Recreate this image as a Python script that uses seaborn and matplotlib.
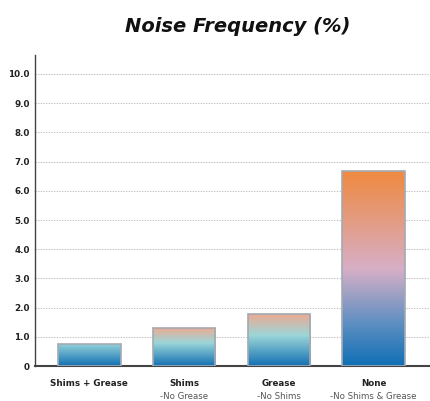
import numpy as np
import pandas as pd
import matplotlib
matplotlib.use("Agg")
import matplotlib.pyplot as plt
from matplotlib.colors import LinearSegmentedColormap
import seaborn as sns

categories = ["Shims + Grease", "Shims", "Grease", "None"]
sublabels = ["", "-No Grease", "-No Shims", "-No Shims & Grease"]
values = [0.77, 1.32, 1.80, 6.67]
yticks = [0, 1, 2, 3, 4, 5, 6, 7, 8, 9, 10]
yticklabels = ["0", "1.0", "2.0", "3.0", "4.0", "5.0", "6.0", "7.0", "8.0", "9.0", "10.0"]

bar_gradients = [
    [(0.0, "#1370b3"), (1.0, "#96d4da")],
    [(0.0, "#1370b3"), (0.6, "#9cd6d8"), (1.0, "#f0a88e")],
    [(0.0, "#1370b3"), (0.58, "#9cd6d8"), (1.0, "#f0a88e")],
    [(0.0, "#0f6fb5"), (0.22, "#5f8fc2"), (0.5, "#d7afc6"), (0.78, "#e5997a"), (1.0, "#ef8a40")],
]

sns.set_style("white")
plt.rcParams["font.family"] = ["DejaVu Sans"]

fig = plt.figure(figsize=(4.30, 4.01), dpi=100)
ax = fig.add_axes([0.082, 0.087, 0.915, 0.776])

df = pd.DataFrame({"cat": categories, "val": values})
sns.barplot(data=df, x="cat", y="val", ax=ax, width=0.66, color="#1370b3",
            edgecolor="#a3aab2", linewidth=1.2, zorder=3)

for patch, stops in zip(ax.patches, bar_gradients):
    x0, y0 = patch.get_x(), patch.get_y()
    w, h = patch.get_width(), patch.get_height()
    cmap = LinearSegmentedColormap.from_list("g", stops)
    grad = np.linspace(0, 1, 256).reshape(-1, 1)
    im = ax.imshow(grad, cmap=cmap, aspect="auto", origin="lower",
                   extent=[x0, x0 + w, y0, y0 + h], zorder=3.5)
    im.set_clip_path(patch)
    patch.set_facecolor("none")
    patch.set_zorder(4)

ax.set_xlim(-0.57, 3.58)
ax.set_ylim(0, 10.65)
ax.set_yticks(yticks)
ax.set_yticklabels(yticklabels, fontsize=6.3, fontweight="bold", color="#222222")
ax.yaxis.grid(True, linestyle=(0, (1.2, 1.2)), color="#c0c0c0", linewidth=0.8, zorder=0)
ax.xaxis.grid(False)
ax.set_axisbelow(True)

ax.set_xticks(range(len(categories)))
ax.set_xticklabels([])
for i, (c, s) in enumerate(zip(categories, sublabels)):
    ax.text(i, -0.6, c, ha="center", va="center", fontsize=6.3, fontweight="bold",
            color="#222222", transform=ax.transData, clip_on=False)
    if s:
        ax.text(i, -1.03, s, ha="center", va="center", fontsize=6.2,
                color="#555555", transform=ax.transData, clip_on=False)

ax.tick_params(axis="both", length=0, pad=4)
ax.set_xlabel("")
ax.set_ylabel("")
for sp in ["top", "right"]:
    ax.spines[sp].set_visible(False)
ax.spines["left"].set_color("#444444")
ax.spines["bottom"].set_color("#444444")
ax.spines["left"].set_linewidth(1.0)
ax.spines["bottom"].set_linewidth(1.5)

fig.text(0.552, 0.935, "Noise Frequency (%)", ha="center", va="center",
         fontsize=14, fontweight="bold", fontstyle="italic", color="#111111")

fig.savefig("out.png", dpi=100, facecolor="white")
